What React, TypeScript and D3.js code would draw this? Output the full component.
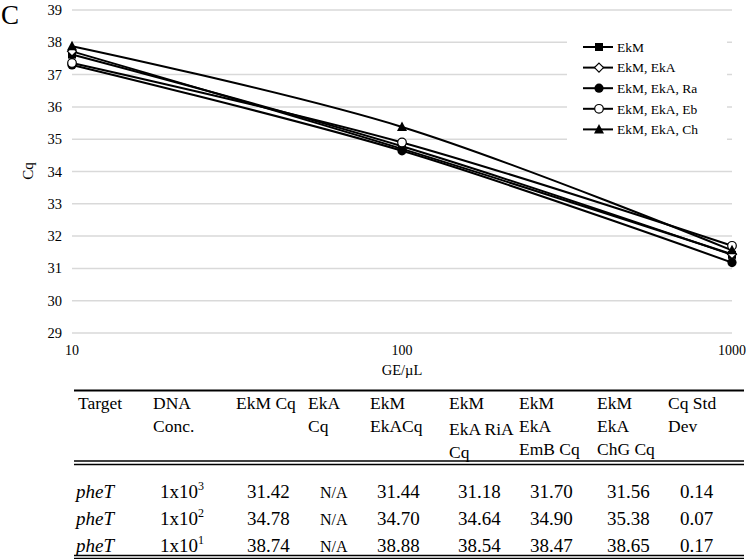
import React from "react";
import * as d3 from "d3";

const concentrations = [10, 100, 1000];
const seriesNames = ["EkM", "EkM, EkA", "EkM, EkA, Ra", "EkM, EkA, Eb", "EkM, EkA, Ch"];
const markerTypes = ["square", "diamond", "dot", "circle", "triangle"];
const cqEkM = [37.62, 34.78, 31.42];
const cqEkA = [37.72, 34.7, 31.44];
const cqRa = [37.3, 34.64, 31.18];
const cqEb = [37.36, 34.9, 31.7];
const cqCh = [37.88, 35.38, 31.56];
const yTicks = [29, 30, 31, 32, 33, 34, 35, 36, 37, 38, 39];

const headerCols = [
  ["Target"],
  ["DNA", "Conc."],
  ["EkM Cq"],
  ["EkA", "Cq"],
  ["EkM", "EkACq"],
  ["EkM", "EkA RiA", "Cq"],
  ["EkM", "EkA", "EmB Cq"],
  ["EkM", "EkA", "ChG Cq"],
  ["Cq Std", "Dev"],
];
const rowTarget = ["pheT", "pheT", "pheT"];
const rowExp = ["3", "2", "1"];
const colEkM = ["31.42", "34.78", "38.74"];
const colEkA = ["N/A", "N/A", "N/A"];
const colEkMEkA = ["31.44", "34.70", "38.88"];
const colRiA = ["31.18", "34.64", "38.54"];
const colEmB = ["31.70", "34.90", "38.47"];
const colChG = ["31.56", "35.38", "38.65"];
const colStd = ["0.14", "0.07", "0.17"];

const FONT = "Liberation Serif, DejaVu Serif, serif";

function Marker({ type, x, y }: { type: string; x: number; y: number }) {
  if (type === "square") return <rect x={x - 4} y={y - 4} width={8} height={8} fill="#000" />;
  if (type === "diamond")
    return <path d={`M${x},${y - 4.5}L${x + 4.5},${y}L${x},${y + 4.5}L${x - 4.5},${y}Z`} fill="#fff" stroke="#000" strokeWidth={1.2} />;
  if (type === "dot") return <circle cx={x} cy={y} r={4.6} fill="#000" />;
  if (type === "circle") return <circle cx={x} cy={y} r={4.3} fill="#fff" stroke="#000" strokeWidth={1.2} />;
  return <path d={`M${x},${y - 5.5}L${x + 5},${y + 4}L${x - 5},${y + 4}Z`} fill="#000" />;
}

export default function App() {
  const W = 746, H = 559;
  const x = d3.scaleLog().domain([10, 1000]).range([72, 732]);
  const y = d3.scaleLinear().domain([29, 39]).range([333, 10]);
  const series = [cqEkM, cqEkA, cqRa, cqEb, cqCh];
  const line = d3
    .line<number>()
    .x((_, i) => x(concentrations[i]))
    .y((d) => y(d))
    .curve(d3.curveCardinal.tension(0));

  const headerX = [78, 153, 236, 308, 370, 449, 519, 597, 668];
  const dataX = [76, 160, 247, 320, 377, 458, 530, 607, 680];
  const headerBase = [409, 432, 455];
  const rowBase = [498, 525, 552];
  const dataCols = [colEkM, colEkA, colEkMEkA, colRiA, colEmB, colChG, colStd];

  return (
    <svg width={W} height={H} style={{ position: "absolute", left: 0, top: 0, background: "#fff", fontFamily: FONT }}>
      <rect x={0} y={0} width={W} height={H} fill="#fff" />
      <text x={1} y={24} fontSize={27}>C</text>
      {yTicks.map((t) => (
        <g key={t}>
          <line x1={72} x2={732} y1={y(t)} y2={y(t)} stroke="#d9d9d9" strokeWidth={1.5} />
          <text x={62} y={y(t)} dy="0.35em" textAnchor="end" fontSize={14.5}>{t}</text>
        </g>
      ))}
      {concentrations.map((c) => (
        <text key={c} x={x(c)} y={355} textAnchor="middle" fontSize={14}>{c}</text>
      ))}
      <text x={402} y={375} textAnchor="middle" fontSize={14.5}>GE/µL</text>
      <text transform={`translate(33,171) rotate(-90)`} textAnchor="middle" fontSize={15}>Cq</text>
      {series.map((s, i) => (
        <path key={i} d={line(s) || ""} fill="none" stroke="#000" strokeWidth={2} />
      ))}
      {series.map((s, i) =>
        s.map((v, j) => <Marker key={`${i}-${j}`} type={markerTypes[i]} x={x(concentrations[j])} y={y(v)} />)
      )}
      <rect x={567} y={32} width={160} height={110} fill="#fff" />
      {seriesNames.map((n, i) => {
        const ly = 47 + i * 20.6;
        return (
          <g key={n}>
            <line x1={583} x2={613} y1={ly} y2={ly} stroke="#000" strokeWidth={2} />
            <Marker type={markerTypes[i]} x={599} y={ly} />
            <text x={617} y={ly} dy="0.35em" fontSize={13.5}>{n}</text>
          </g>
        );
      })}

      <line x1={74} x2={744} y1={390.5} y2={390.5} stroke="#000" strokeWidth={2} />
      {headerCols.map((lines, ci) =>
        lines.map((t, li) => (
          <text key={`${ci}-${li}`} x={headerX[ci]} y={headerBase[li] + (ci === 5 && li > 0 ? 3 : 0)} fontSize={17.5}>{t}</text>
        ))
      )}
      <line x1={74} x2={744} y1={461} y2={461} stroke="#000" strokeWidth={1.5} />
      <line x1={74} x2={744} y1={464.5} y2={464.5} stroke="#000" strokeWidth={1.5} />
      {rowBase.map((b, r) => (
        <g key={r} fontSize={19}>
          <text x={dataX[0]} y={b} fontStyle="italic">{rowTarget[r]}</text>
          <text x={dataX[1]} y={b}>
            1x10<tspan dy={-8} fontSize={12}>{rowExp[r]}</tspan>
          </text>
          {dataCols.map((col, ci) => (
            <text key={ci} x={dataX[ci + 2]} y={b} fontSize={ci === 1 ? 16 : 19}>{col[r]}</text>
          ))}
        </g>
      ))}
      <line x1={74} x2={744} y1={555.5} y2={555.5} stroke="#000" strokeWidth={1.5} />
      <line x1={74} x2={744} y1={558.5} y2={558.5} stroke="#000" strokeWidth={1.5} />
    </svg>
  );
}
